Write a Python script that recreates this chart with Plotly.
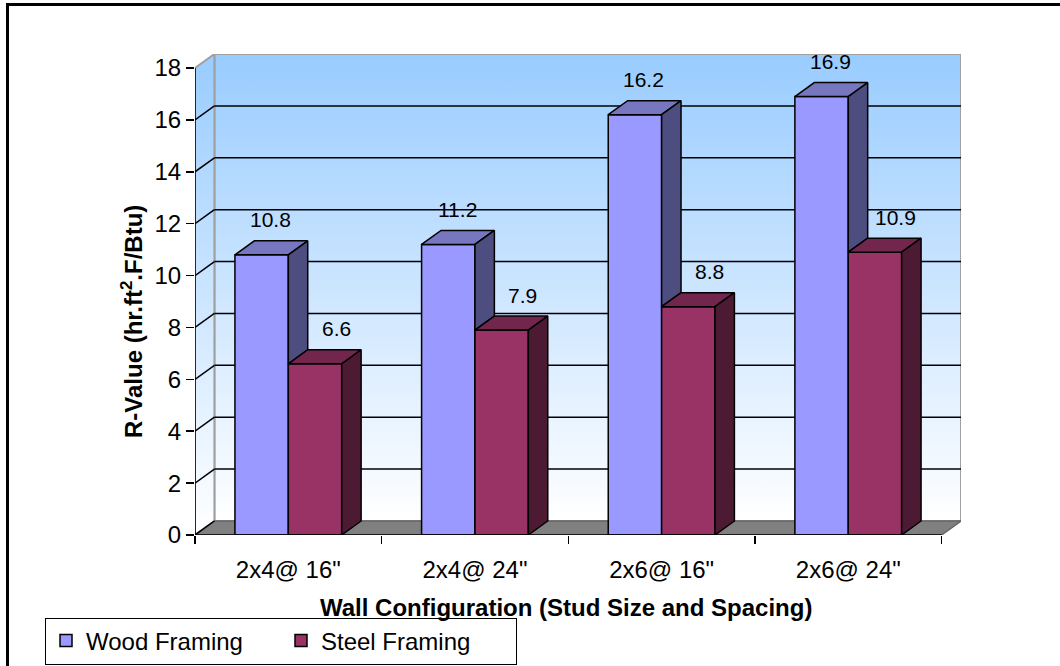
import plotly.graph_objects as go

# ---------------- data ----------------
categories = ['2x4@ 16"', '2x4@ 24"', '2x6@ 16"', '2x6@ 24"']
wood_values = [10.8, 11.2, 16.2, 16.9]
steel_values = [6.6, 7.9, 8.8, 10.9]
series_names = ["Wood Framing", "Steel Framing"]
y_tick_values = [0, 2, 4, 6, 8, 10, 12, 14, 16, 18]
x_title = "Wall Configuration (Stud Size and Spacing)"
y_title = "R-Value (hr.ft<sup>2</sup>.F/Btu)"

# ---------------- style / layout ----------------
W, H = 1060, 666
PAGE_OFF = 0                       # body margin removed by post_script below
PL, PR, PT, PB = 195, 961, 54, 535  # target plot-area edges on screen
ML, MT = PL - PAGE_OFF, PT - PAGE_OFF
MR = W - ML - (PR - PL)
MB = H - MT - (PB - PT)
DX, DY = 0.104, 0.54          # 3-D depth offset in axis units
BW = 0.286                     # bar width in category units
FONT = "Liberation Sans, Arial, sans-serif"

WOOD_FRONT, WOOD_TOP, WOOD_SIDE = "#9999FF", "#7777BF", "#4D4D80"
STEEL_FRONT, STEEL_TOP, STEEL_SIDE = "#993366", "#73264D", "#4D1A33"
WALL_TOP, WALL_BOTTOM = "#99CCFF", "#FFFFFF"

n = len(categories)
idx = list(range(n))
x0, x1 = -0.5, n - 0.5
ymax = y_tick_values[-1]
XR = [x0, x1 + DX]
YR = [0, ymax + DY]


def pxx(px):
    """screen x pixel -> paper x"""
    return (px - PL) / (PR - PL)


def pxy(py):
    """screen y pixel -> paper y"""
    return (PB - py) / (PB - PT)


fig = go.Figure()

common = dict(mode="lines", hoverinfo="skip", showlegend=False)

# back wall
fig.add_trace(go.Scatter(
    x=[x0 + DX, x1 + DX, x1 + DX, x0 + DX, x0 + DX],
    y=[DY, DY, ymax + DY, ymax + DY, DY],
    fill="toself",
    fillgradient=dict(type="vertical", start=DY, stop=ymax + DY,
                      colorscale=[[0, WALL_BOTTOM], [1, WALL_TOP]]),
    line=dict(color="#A0A0A0", width=2), **common))

# side wall
fig.add_trace(go.Scatter(
    x=[x0, x0 + DX, x0 + DX, x0, x0],
    y=[0, DY, ymax + DY, ymax, 0],
    fill="toself",
    fillgradient=dict(type="vertical", start=0, stop=ymax + DY,
                      colorscale=[[0, WALL_BOTTOM], [1, WALL_TOP]]),
    line=dict(color="#A0A0A0", width=2), **common))

# floor
fig.add_trace(go.Scatter(
    x=[x0, x1, x1 + DX, x0 + DX, x0],
    y=[0, 0, DY, DY, 0],
    fill="toself", fillcolor="#808080",
    line=dict(color="#666666", width=1.5), **common))

# gridlines (back wall + side wall diagonals)
gx, gy = [], []
for v in y_tick_values[:-1]:
    if v > 0:
        gx += [x0 + DX, x1 + DX, None]
        gy += [v + DY, v + DY, None]
    gx += [x0, x0 + DX, None]
    gy += [v, v + DY, None]
fig.add_trace(go.Scatter(x=gx, y=gy, line=dict(color="black", width=1.5), **common))

# ---------------- bars (overlay subplot, drawn above walls) ----------------
bar_line = dict(color="black", width=1.5)
fig.add_trace(go.Bar(x=idx, y=wood_values, width=BW, offset=-BW, name=series_names[0],
                     marker=dict(color=WOOD_FRONT, line=bar_line),
                     xaxis="x2", yaxis="y2", hoverinfo="skip"))
fig.add_trace(go.Bar(x=idx, y=steel_values, width=BW, offset=0, name=series_names[1],
                     marker=dict(color=STEEL_FRONT, line=bar_line),
                     xaxis="x2", yaxis="y2", hoverinfo="skip"))


def top_face(xl, xr, h):
    return [xl, xr, xr + DX, xl + DX, xl, None], [h, h, h + DY, h + DY, h, None]


def side_face(xr, hb, h):
    return [xr, xr + DX, xr + DX, xr, xr, None], [hb, hb + DY, h + DY, h, hb, None]


faces = {"wt": ([], []), "ws": ([], []), "st": ([], []), "ss": ([], [])}
for i, (hw, hs) in enumerate(zip(wood_values, steel_values)):
    a, b = top_face(i - BW, i, hw)
    faces["wt"][0].extend(a); faces["wt"][1].extend(b)
    a, b = side_face(i, min(hw, hs), hw)
    faces["ws"][0].extend(a); faces["ws"][1].extend(b)
    a, b = top_face(i, i + BW, hs)
    faces["st"][0].extend(a); faces["st"][1].extend(b)
    a, b = side_face(i + BW, 0, hs)
    faces["ss"][0].extend(a); faces["ss"][1].extend(b)

for key, col in [("wt", WOOD_TOP), ("ws", WOOD_SIDE), ("st", STEEL_TOP), ("ss", STEEL_SIDE)]:
    fig.add_trace(go.Scatter(x=faces[key][0], y=faces[key][1], fill="toself", fillcolor=col,
                             line=dict(color="black", width=1.5), xaxis="x2", yaxis="y2",
                             **common))

# ---------------- annotations ----------------
ann = []
for i, v in enumerate(wood_values):
    ann.append(dict(x=i - BW / 2, y=v, xref="x", yref="y", text=f"{v:.1f}", showarrow=False,
                    xshift=9, yshift=35, yanchor="middle",
                    font=dict(family=FONT, size=21, color="black")))
for i, v in enumerate(steel_values):
    ann.append(dict(x=i + BW / 2, y=v, xref="x", yref="y", text=f"{v:.1f}", showarrow=False,
                    xshift=21, yshift=35, yanchor="middle",
                    font=dict(family=FONT, size=21, color="black")))
ann.append(dict(x=pxx(566), y=pxy(607), xref="paper", yref="paper", text=f"<b>{x_title}</b>",
                showarrow=False, xanchor="center", yanchor="middle",
                font=dict(family=FONT, size=24, color="black")))
ann.append(dict(x=pxx(132), y=pxy(322), xref="paper", yref="paper", text=f"<b>{y_title}</b>",
                showarrow=False, xanchor="center", yanchor="middle", textangle=-90,
                font=dict(family=FONT, size=24, color="black")))

shapes = [
    # front axis lines
    dict(type="line", xref="x", yref="y", x0=x0, x1=x0, y0=0, y1=ymax,
         line=dict(color="black", width=1.5), layer="above"),
    dict(type="line", xref="x", yref="y", x0=x0, x1=x1, y0=0, y1=0,
         line=dict(color="black", width=1.5), layer="above"),
    # outer chart border
    dict(type="rect", xref="paper", yref="paper", x0=pxx(7.5), x1=pxx(1090),
         y0=pxy(700), y1=pxy(4.5), line=dict(color="black", width=3), layer="above"),
]

fig.update_layout(
    width=W, height=H,
    margin=dict(l=ML, r=MR, t=MT, b=MB, autoexpand=False),
    paper_bgcolor="white", plot_bgcolor="rgba(0,0,0,0)",
    barmode="overlay", hovermode=False,
    font=dict(family=FONT, size=24, color="black"),
    xaxis=dict(range=XR, tickmode="array", tickvals=idx, ticktext=categories,
               ticks="", showgrid=False, zeroline=False, showline=False, automargin=False,
               tickfont=dict(family=FONT, size=24, color="black"),
               ticklabelstandoff=18,
               minor=dict(tickmode="array", tickvals=[x0 + k for k in range(n + 1)],
                          ticks="outside", ticklen=8, tickwidth=1.5, tickcolor="black",
                          showgrid=False)),
    yaxis=dict(range=YR, tickmode="array", tickvals=y_tick_values,
               ticks="outside", ticklen=8, tickwidth=1.5, tickcolor="black",
               showgrid=False, zeroline=False, showline=False, automargin=False,
               tickfont=dict(family=FONT, size=24, color="black")),
    xaxis2=dict(range=XR, overlaying="x", visible=False),
    yaxis2=dict(range=YR, overlaying="y", visible=False),
    legend=dict(orientation="h", x=pxx(45), y=pxy(641), xanchor="left", yanchor="middle",
                bordercolor="black", borderwidth=1, bgcolor="white",
                font=dict(family=FONT, size=24, color="black"),
                entrywidth=190, traceorder="normal"),
    annotations=ann,
    shapes=shapes,
)

fig.write_html("out.html",
               config={"displayModeBar": False, "staticPlot": True},
               post_script="document.body.style.margin='0';document.body.style.overflow='hidden';")
